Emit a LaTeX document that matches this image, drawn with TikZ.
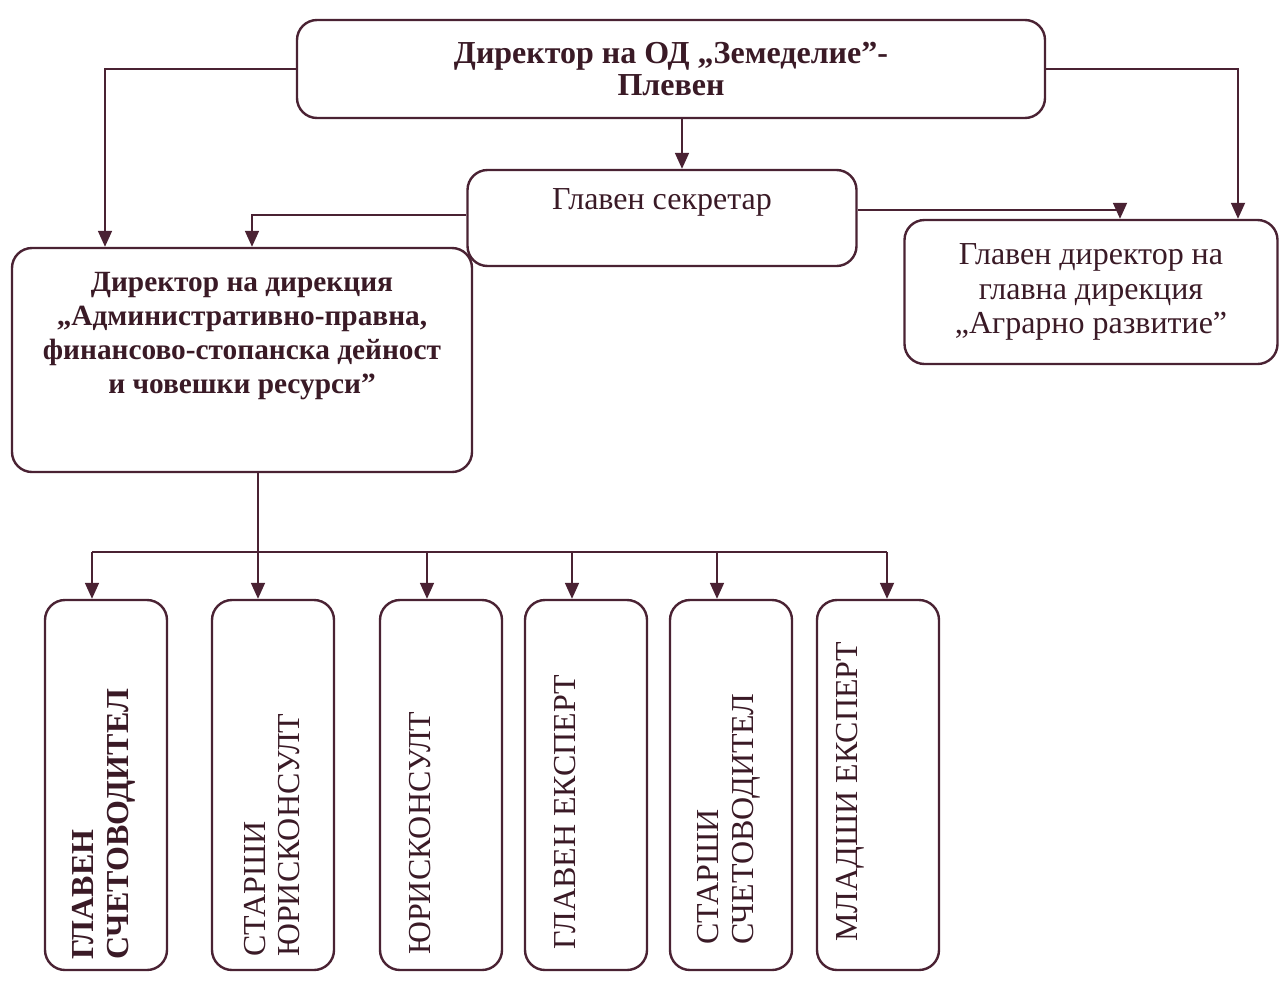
\documentclass[tikz,border=0pt]{standalone}
\usepackage{fontspec}
\setmainfont{Liberation Serif}
\usetikzlibrary{arrows.meta}
\definecolor{ln}{HTML}{4A2233}
\definecolor{tx}{HTML}{3A1A26}
\begin{document}
\begin{tikzpicture}[x=0.75pt,y=-0.75pt,
  box/.style={draw=ln,line width=1.8pt,rounded corners=15pt,inner sep=0pt},
  txt/.style={text=tx,align=center,inner sep=0pt,font=\fontsize{24}{26}\selectfont},
  btxt/.style={text=tx,align=center,inner sep=0pt,font=\bfseries\fontsize{22}{25.5}\selectfont},
  vtxt/.style={text=tx,align=left,inner sep=0pt,rotate=90,anchor=west,font=\fontsize{24}{26}\selectfont},
  conn/.style={draw=ln,line width=1.3pt,-{Triangle[length=12pt,width=10.5pt]}},
  bus/.style={draw=ln,line width=0.9pt}]
\useasboundingbox (0,0) rectangle (1280,982);
% boxes
\node[box,minimum width=748*0.75pt,minimum height=98*0.75pt,btxt,font=\bfseries\fontsize{24}{24}\selectfont] (top) at (671,69) {Директор на ОД „Земеделие”-\\Плевен};
\node[box,minimum width=389*0.75pt,minimum height=96*0.75pt] (sec) at (662,218) {};
\node[txt] (sect) at (662,202) {Главен секретар};
\node[box,minimum width=373*0.75pt,minimum height=144*0.75pt,txt] (right) at (1091,292) {Главен директор на\\главна дирекция\\„Аграрно развитие”};
\node[box,minimum width=460*0.75pt,minimum height=224*0.75pt] (left) at (242,360) {};
\node[btxt] (leftt) at (242,336) {Директор на дирекция\\„Административно-правна,\\финансово-стопанска дейност\\и човешки ресурси”};
% bottom boxes
\foreach \n/\x in {b1/106,b2/273,b3/441,b4/586,b5/731,b6/878}{
  \node[box,minimum width=122*0.75pt,minimum height=370*0.75pt] (\n) at (\x,785) {};
}
\node[vtxt,font=\bfseries\fontsize{24}{26}\selectfont] (b1t) at (104,960) {ГЛАВЕН\\СЧЕТОВОДИТЕЛ};
\node[vtxt] (b2t) at (272,957) {СТАРШИ\\ЮРИСКОНСУЛТ};
\node[vtxt] (b3t) at (420,955) {ЮРИСКОНСУЛТ};
\node[vtxt] (b4t) at (565,950) {ГЛАВЕН ЕКСПЕРТ};
\node[vtxt] (b5t) at (729,945) {СТАРШИ\\СЧЕТОВОДИТЕЛ};
\node[vtxt] (b6t) at (850,942) {МЛАДШИ ЕКСПЕРТ};
% helper coordinates
\coordinate (xa) at (105,0);
\coordinate (xb) at (1238,0);
\coordinate (xc) at (682,0);
\coordinate (xd) at (252,0);
\coordinate (xe) at (1120,0);
\coordinate (xf) at (258,0);
\coordinate (busy) at (0,552);
\coordinate (x1) at (92,0);
\coordinate (x3) at (427,0);
\coordinate (x4) at (572,0);
\coordinate (x5) at (717,0);
\coordinate (x6) at (887,0);
% connectors
\draw[conn] (top.west) -| (xa |- left.north);
\draw[conn] (top.east) -| (xb |- right.north);
\draw[conn] (xc |- top.south) -- (xc |- sec.north);
\draw[conn] ([yshift=2pt]sec.west) -| (xd |- left.north);
\draw[conn] ([yshift=6pt]sec.east) -| (xe |- right.north);
\draw[conn] (xf |- left.south) -- (xf |- b2.north);
\draw[bus] (x1 |- busy) -- (x6 |- busy);
\draw[conn] (x1 |- busy) -- (x1 |- b1.north);
\draw[conn] (x3 |- busy) -- (x3 |- b3.north);
\draw[conn] (x4 |- busy) -- (x4 |- b4.north);
\draw[conn] (x5 |- busy) -- (x5 |- b5.north);
\draw[conn] (x6 |- busy) -- (x6 |- b6.north);
\end{tikzpicture}
\end{document}
